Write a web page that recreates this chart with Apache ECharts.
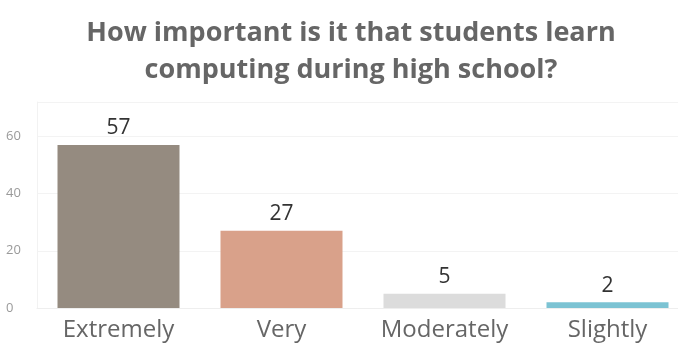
<!DOCTYPE html>
<html>
<head>
<meta charset="utf-8">
<script src="https://cdn.jsdelivr.net/npm/echarts@6/dist/echarts.min.js"></script>
<style>
  html, body { margin: 0; padding: 0; background: #fff; }
  #chart { width: 678px; height: 343px; }
</style>
</head>
<body>
<div id="chart"></div>
<script>
// Survey responses: importance of learning computing in high school
const categories = ['Extremely', 'Very', 'Moderately', 'Slightly'];
const values = [57, 27, 5, 2];
const barColors = ['#958b80', '#d9a18a', '#dcdcdc', '#7cc3d3'];
const yTicks = [0, 20, 40, 60];

const chart = echarts.init(document.getElementById('chart'), null, { renderer: 'canvas' });

chart.setOption({
  animation: false,
  backgroundColor: '#ffffff',
  title: {
    text: 'How important is it that students learn\ncomputing during high school?',
    left: 346,
    textAlign: 'center',
    top: 10,
    textStyle: {
      fontFamily: 'Open Sans',
      fontWeight: 'bold',
      fontSize: 27,
      lineHeight: 37,
      color: '#666666'
    }
  },
  // plot area runs a little past the right edge of the canvas
  grid: { left: 37, width: 652, top: 102, bottom: 35, outerBoundsMode: 'none', containLabel: false },
  xAxis: {
    type: 'category',
    data: categories,
    axisLine: { show: true, lineStyle: { color: '#eeeeee' } },
    axisTick: { show: false },
    axisLabel: {
      interval: 0,
      hideOverlap: false,
      margin: 10,
      fontFamily: 'Open Sans',
      fontSize: 24,
      color: '#666666'
    }
  },
  yAxis: {
    type: 'value',
    min: 0,
    max: 72,
    interval: 20,
    axisLine: { show: true, lineStyle: { color: '#f2f2f2' } },
    axisTick: { show: false },
    splitLine: { lineStyle: { color: '#f3f3f3' } },
    axisLabel: {
      showMaxLabel: false,
      align: 'left',
      margin: 31,
      fontFamily: 'Open Sans',
      fontSize: 13,
      color: '#9a9a9a',
      formatter: v => (yTicks.indexOf(v) >= 0 ? String(v) : '')
    }
  },
  series: [{
    type: 'bar',
    barWidth: 122,
    data: values.map((v, i) => ({ value: v, itemStyle: { color: barColors[i] } })),
    label: {
      show: true,
      position: 'top',
      distance: 6,
      fontFamily: 'Open Sans',
      fontSize: 21,
      color: '#333333'
    }
  }]
});
</script>
</body>
</html>
